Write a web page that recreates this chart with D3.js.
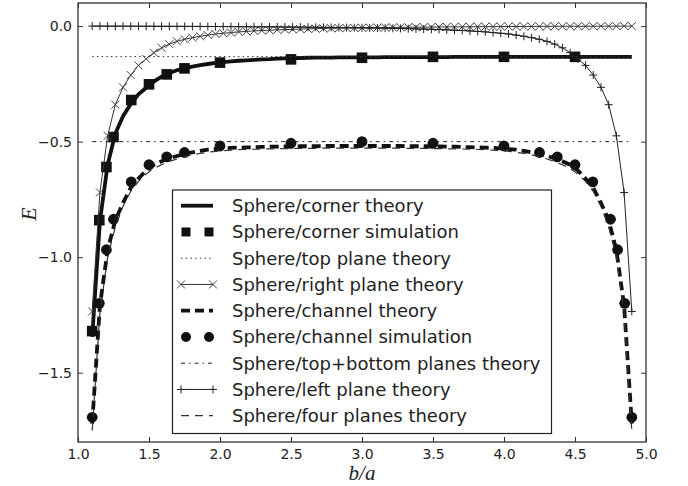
<!DOCTYPE html>
<html><head><meta charset="utf-8">
<script src="https://cdn.jsdelivr.net/npm/d3@7"></script>
<style>body{margin:0;background:#fff}</style>
</head><body>
<svg id="c" width="688" height="486"></svg>
<script>
// ---------- data ----------
const xTicks = [1.0, 1.5, 2.0, 2.5, 3.0, 3.5, 4.0, 4.5, 5.0];
const yTicks = [0.0, -0.5, -1.0, -1.5];
// theory curves sampled on 71 points from 1.1 to 4.9
const gridStart = 1.1, gridEnd = 4.9, gridN = 71;
const rightPlane = [-1.235,-0.72,-0.475,-0.34,-0.265,-0.212,-0.170,-0.142,-0.115,-0.094,
 -0.078,-0.066,-0.057,-0.050,-0.044,-0.039,-0.034,-0.031,-0.028,-0.025,
 -0.023,-0.021,-0.019,-0.018,-0.016,-0.015,-0.014,-0.013,-0.012,-0.011,
 -0.010,-0.0095,-0.009,-0.0085,-0.008,-0.0075,-0.007,-0.0065,-0.006,-0.0057,
 -0.0054,-0.005,-0.0047,-0.0044,-0.0041,-0.0038,-0.0035,-0.0033,-0.003,-0.0028,
 -0.0026,-0.0024,-0.0022,-0.002,-0.0018,-0.0016,-0.0015,-0.0013,-0.0012,-0.001,
 -0.0009,-0.0008,-0.0007,-0.0006,-0.0005,-0.0004,-0.0003,-0.0002,-0.0002,-0.0001,0];
const leftPlane = [0,-0.0001,-0.0002,-0.0002,-0.0003,-0.0004,-0.0005,-0.0006,-0.0007,-0.0008,-0.0009,
 -0.001,-0.0012,-0.0013,-0.0015,-0.0016,-0.0018,-0.002,-0.0022,-0.0024,-0.0026,
 -0.0028,-0.003,-0.0033,-0.0035,-0.0038,-0.0041,-0.0044,-0.0047,-0.005,-0.0054,
 -0.0057,-0.006,-0.0065,-0.007,-0.0075,-0.008,-0.0085,-0.009,-0.0095,-0.010,
 -0.011,-0.012,-0.013,-0.014,-0.015,-0.016,-0.018,-0.019,-0.021,-0.023,
 -0.025,-0.028,-0.031,-0.034,-0.039,-0.044,-0.050,-0.057,-0.066,-0.078,
 -0.094,-0.115,-0.142,-0.170,-0.212,-0.265,-0.34,-0.475,-0.72,-1.235];
const cornerTheory = [-1.345,-0.845,-0.60,-0.465,-0.39,-0.337,-0.295,-0.267,-0.240,-0.219,
 -0.203,-0.191,-0.182,-0.175,-0.169,-0.164,-0.159,-0.156,-0.153,-0.150,
 -0.148,-0.146,-0.144,-0.143,-0.141,-0.140,-0.139,-0.138,-0.137,-0.136,
 -0.136,-0.136,-0.135,-0.135,-0.135,-0.135,-0.135,-0.135,-0.134,-0.134,
 -0.134,-0.134,-0.134,-0.134,-0.134,-0.134,-0.134,-0.133,-0.133,-0.133,
 -0.133,-0.133,-0.133,-0.133,-0.133,-0.133,-0.133,-0.133,-0.133,-0.133,
 -0.133,-0.133,-0.133,-0.133,-0.133,-0.133,-0.133,-0.133,-0.133,-0.133,-0.133];
const channelTheory = [-1.72,-1.21,-0.97,-0.84,-0.765,-0.70,-0.66,-0.625,-0.60,-0.585,
 -0.572,-0.562,-0.553,-0.546,-0.540,-0.535,-0.532,-0.529,-0.527,-0.526,
 -0.525,-0.524,-0.523,-0.522,-0.522,-0.521,-0.521,-0.520,-0.520,-0.520,
 -0.519,-0.519,-0.519,-0.519,-0.519,-0.519,-0.519,-0.519,-0.519,-0.519,
 -0.519,-0.520,-0.520,-0.520,-0.521,-0.521,-0.522,-0.522,-0.523,-0.524,
 -0.525,-0.526,-0.527,-0.529,-0.532,-0.535,-0.540,-0.546,-0.553,-0.562,
 -0.572,-0.585,-0.60,-0.625,-0.66,-0.70,-0.765,-0.84,-0.97,-1.21,-1.72];
const fourPlanes = [-1.75,-1.24,-1.0,-0.87,-0.78,-0.715,-0.672,-0.64,-0.616,-0.60,
 -0.586,-0.575,-0.565,-0.557,-0.551,-0.546,-0.542,-0.539,-0.537,-0.535,
 -0.534,-0.533,-0.532,-0.531,-0.531,-0.530,-0.530,-0.529,-0.529,-0.529,
 -0.528,-0.528,-0.528,-0.528,-0.528,-0.528,-0.528,-0.528,-0.528,-0.528,
 -0.528,-0.529,-0.529,-0.529,-0.530,-0.530,-0.531,-0.531,-0.532,-0.533,
 -0.534,-0.535,-0.537,-0.539,-0.542,-0.546,-0.551,-0.557,-0.565,-0.575,
 -0.586,-0.60,-0.616,-0.64,-0.672,-0.715,-0.78,-0.87,-1.0,-1.24,-1.75];
const flatX = [1.1, 4.9];
const topPlane = [-0.132, -0.132];
const topBottomPlanes = [-0.5, -0.5];
const cornerSimX = [1.1,1.15,1.2,1.25,1.375,1.5,1.625,1.75,2.0,2.5,3.0,3.5,4.0,4.5];
const cornerSimY = [-1.32,-0.84,-0.61,-0.48,-0.32,-0.252,-0.209,-0.183,-0.158,-0.144,-0.137,-0.133,-0.133,-0.133];
const channelSimX = [1.1,1.15,1.2,1.25,1.375,1.5,1.625,1.75,2.0,2.5,3.0,3.5,4.0,4.25,4.375,4.5,4.625,4.75,4.8,4.85,4.9];
const channelSimY = [-1.693,-1.20,-0.968,-0.836,-0.674,-0.60,-0.566,-0.547,-0.519,-0.507,-0.50,-0.507,-0.519,-0.547,-0.566,-0.60,-0.674,-0.836,-0.968,-1.20,-1.693];
const legendLabels = ["Sphere/corner theory","Sphere/corner simulation","Sphere/top plane theory",
 "Sphere/right plane theory","Sphere/channel theory","Sphere/channel simulation",
 "Sphere/top+bottom planes theory","Sphere/left plane theory","Sphere/four planes theory"];

// ---------- layout ----------
const L = 78, R = 646, T = 3, B = 442;
const x = d3.scaleLinear().domain([1, 5]).range([L, R]);
const y = d3.scaleLinear().domain([-1.8, 0.1]).range([B, T]);
const grid = d3.range(gridN).map(i => gridStart + i * (gridEnd - gridStart) / (gridN - 1));
const zip = (xs, ys) => xs.map((v, i) => [v, ys[i]]);
const svg = d3.select('#c');
svg.append('rect').attr('width', 688).attr('height', 486).attr('fill', '#fff');

const ink = '#111';
const line = d3.line().x(d => x(d[0])).y(d => y(d[1]));
const g = svg.append('g');

function path(data, w, dash, col) {
  g.append('path').attr('d', line(data)).attr('fill', 'none')
    .attr('stroke', col || ink).attr('stroke-width', w)
    .attr('stroke-dasharray', dash || null);
}
function xMark(sel, cx, cy, s, col) {
  sel.append('path').attr('d', `M${cx-s},${cy-s}L${cx+s},${cy+s}M${cx-s},${cy+s}L${cx+s},${cy-s}`)
    .attr('stroke', col).attr('stroke-width', 1).attr('fill', 'none');
}
function plusMark(sel, cx, cy, s, col) {
  sel.append('path').attr('d', `M${cx-s},${cy}L${cx+s},${cy}M${cx},${cy-s}L${cx},${cy+s}`)
    .attr('stroke', col).attr('stroke-width', 1).attr('fill', 'none');
}
function square(sel, cx, cy, s) {
  sel.append('rect').attr('x', cx - s).attr('y', cy - s).attr('width', 2*s).attr('height', 2*s).attr('fill', ink);
}
function dot(sel, cx, cy, r) {
  sel.append('circle').attr('cx', cx).attr('cy', cy).attr('r', r).attr('fill', ink);
}

// corner theory
path(zip(grid, cornerTheory), 3.8);
// corner simulation
zip(cornerSimX, cornerSimY).forEach(d => square(g, x(d[0]), y(d[1]), 5.3));
// top plane
path(zip(flatX, topPlane), 1, '1.5,3.2', '#333');
// right plane
path(zip(grid, rightPlane), 1, null, '#333');
zip(grid, rightPlane).forEach(d => xMark(g, x(d[0]), y(d[1]), 4, '#444'));
// channel theory
path(zip(grid, channelTheory), 3.8, '9,5');
// channel simulation
zip(channelSimX, channelSimY).forEach(d => dot(g, x(d[0]), y(d[1]), 5.4));
// top+bottom planes
path(zip(flatX, topBottomPlanes), 1, '4,4,1.5,4', '#222');
// left plane
path(zip(grid, leftPlane), 1, null, '#222');
zip(grid, leftPlane).forEach(d => plusMark(g, x(d[0]), y(d[1]), 4, '#222'));
// four planes
path(zip(grid, fourPlanes), 1.2, '8,6', '#333');

// ---------- axes ----------
const fmt = d3.format('.1f');
const axFont = 'DejaVu Sans';
function styleAxis(sel) {
  sel.select('.domain').remove();
  sel.selectAll('line').attr('stroke', '#333').attr('stroke-width', 1);
  sel.selectAll('text').attr('font-family', axFont).attr('font-size', 14).attr('fill', '#222');
}
svg.append('g').attr('transform', `translate(0,${B})`)
  .call(d3.axisBottom(x).tickValues(xTicks).tickSize(-5).tickPadding(7).tickFormat(fmt)).call(styleAxis);
svg.append('g').attr('transform', `translate(${L},0)`)
  .call(d3.axisLeft(y).tickValues(yTicks).tickSize(-5).tickPadding(6).tickFormat(fmt)).call(styleAxis);
svg.append('g').attr('transform', `translate(0,${T})`)
  .call(d3.axisTop(x).tickValues(xTicks).tickSize(-5).tickFormat('')).call(styleAxis);
svg.append('g').attr('transform', `translate(${R},0)`)
  .call(d3.axisRight(y).tickValues(yTicks).tickSize(-5).tickFormat('')).call(styleAxis);
svg.append('rect').attr('x', L).attr('y', T).attr('width', R - L).attr('height', B - T)
  .attr('fill', 'none').attr('stroke', '#333').attr('stroke-width', 1.3);

svg.append('text').attr('x', (L + R) / 2).attr('y', 480).attr('text-anchor', 'middle')
  .attr('font-family', 'Liberation Serif').attr('font-style', 'italic').attr('font-size', 21)
  .attr('fill', '#222').text('b/a');
svg.append('text').attr('transform', 'translate(36,214) rotate(-90)').attr('text-anchor', 'middle')
  .attr('font-family', 'Liberation Serif').attr('font-style', 'italic').attr('font-size', 22)
  .attr('fill', '#222').text('E');

// ---------- legend ----------
const lg = svg.append('g');
lg.append('rect').attr('x', 172.5).attr('y', 190).attr('width', 379).attr('height', 243.5)
  .attr('fill', '#fff').attr('stroke', '#222').attr('stroke-width', 1.2);
const rowY = i => 205.7 + i * 26.25;
const hx0 = 181, hx1 = 213;
function hLine(i, w, dash, col) {
  lg.append('line').attr('x1', hx0).attr('x2', hx1).attr('y1', rowY(i)).attr('y2', rowY(i))
    .attr('stroke', col || ink).attr('stroke-width', w).attr('stroke-dasharray', dash || null);
}
hLine(0, 3.8);
square(lg, 186, rowY(1), 4.5); square(lg, 209, rowY(1), 4.5);
hLine(2, 1, '1.5,3.2', '#333');
hLine(3, 1, null, '#333'); xMark(lg, hx0, rowY(3), 4, '#444'); xMark(lg, hx1, rowY(3), 4, '#444');
hLine(4, 3.8, '9,5');
dot(lg, 186, rowY(5), 5); dot(lg, 209, rowY(5), 5);
hLine(6, 1, '4,4,1.5,4', '#222');
hLine(7, 1, null, '#222'); plusMark(lg, hx0, rowY(7), 4, '#222'); plusMark(lg, hx1, rowY(7), 4, '#222');
hLine(8, 1.2, '8,6', '#333');
legendLabels.forEach((t, i) => {
  lg.append('text').attr('x', 232).attr('y', rowY(i) + 6.5)
    .attr('font-family', axFont).attr('font-size', 18).attr('fill', '#222').text(t);
});
</script>
</body></html>
